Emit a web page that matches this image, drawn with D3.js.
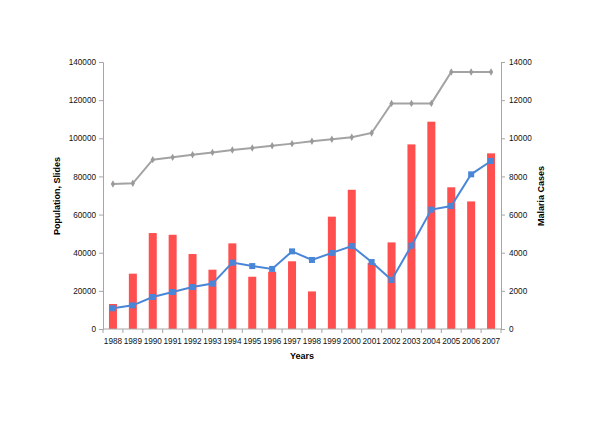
<!DOCTYPE html>
<html>
<head>
<meta charset="utf-8">
<script src="https://cdn.jsdelivr.net/npm/d3@7"></script>
<style>
body{margin:0;background:#fff;}
text{font-family:"Liberation Sans",Arial,sans-serif;}
</style>
</head>
<body>
<svg id="chart" width="600" height="424"></svg>
<script>
const years = ["1988","1989","1990","1991","1992","1993","1994","1995","1996","1997","1998","1999","2000","2001","2002","2003","2004","2005","2006","2007"];
const slides = [13100,29000,50300,49400,39300,31100,44900,27400,30000,35500,19700,58900,73000,34600,45400,96800,108700,74300,66900,92100];
const population = [76000,76400,88800,90000,91400,92600,93900,94900,96100,97200,98400,99500,100500,102800,118300,118300,118300,134800,134800,134800];
const malaria = [1085,1240,1680,1940,2200,2380,3480,3300,3150,4070,3620,3990,4350,3510,2570,4370,6260,6450,8110,8810];
const leftTicks = [0,20000,40000,60000,80000,100000,120000,140000];
const rightTicks = [0,2000,4000,6000,8000,10000,12000,14000];

const svg = d3.select("#chart");
const pLeft = 103, pRight = 501, pTop = 62, pBottom = 329;
const x = d3.scaleBand().domain(years).range([pLeft, pRight]).padding(0);
const yL = d3.scaleLinear().domain([0,140000]).range([pBottom, pTop]);
const yR = d3.scaleLinear().domain([0,14000]).range([pBottom, pTop]);
const axisColor = "#a6a6a6";

// bars
svg.append("g").selectAll("rect").data(years).join("rect")
  .attr("x", (d)=> x(d) + x.bandwidth()/2 - 4)
  .attr("width", 8)
  .attr("y", (d,i)=> yL(slides[i]))
  .attr("height", (d,i)=> pBottom - yL(slides[i]))
  .attr("fill", "#ff4f4f");

// axes
const gL = svg.append("g").attr("transform", `translate(${pLeft},0)`)
  .call(d3.axisLeft(yL).tickValues(leftTicks).tickSize(4).tickPadding(3).tickFormat(d3.format("d")));
const gR = svg.append("g").attr("transform", `translate(${pRight},0)`)
  .call(d3.axisRight(yR).tickValues(rightTicks).tickSize(4).tickPadding(4).tickFormat(d3.format("d")));
const gX = svg.append("g").attr("transform", `translate(0,${pBottom})`)
  .call(d3.axisBottom(x).tickSize(0).tickPadding(9));
// x tick marks between categories
svg.append("g").selectAll("line").data(years.concat(["end"])).join("line")
  .attr("x1", (d,i)=> pLeft + i*x.bandwidth()).attr("x2", (d,i)=> pLeft + i*x.bandwidth())
  .attr("y1", pBottom).attr("y2", pBottom+4)
  .attr("stroke", axisColor);

[gL,gR,gX].forEach(g=>{
  g.selectAll("path.domain").attr("stroke", axisColor);
  g.selectAll(".tick line").attr("stroke", axisColor);
  g.selectAll("text").attr("fill","#111").style("font-size","8.2px").style("font-family","'Liberation Sans',Arial,sans-serif");
});
gX.select("path.domain").attr("d", `M${pLeft},0H${pRight}`);

// gray population line
const lineP = d3.line().x((d,i)=> x(years[i]) + x.bandwidth()/2).y(d=> yL(d));
svg.append("path").datum(population).attr("d", lineP)
  .attr("fill","none").attr("stroke","#a3a3a3").attr("stroke-width",2);
svg.append("g").selectAll("path").data(population).join("path")
  .attr("d", d3.symbol(d3.symbolDiamond, 16))
  .attr("transform", (d,i)=> `translate(${x(years[i]) + x.bandwidth()/2},${yL(d)})`)
  .attr("fill","#9a9a9a");

// blue malaria line
const lineM = d3.line().x((d,i)=> x(years[i]) + x.bandwidth()/2).y(d=> yR(d));
svg.append("path").datum(malaria).attr("d", lineM)
  .attr("fill","none").attr("stroke","#4a86d8").attr("stroke-width",2);
svg.append("g").selectAll("rect").data(malaria).join("rect")
  .attr("x", (d,i)=> x(years[i]) + x.bandwidth()/2 - 3)
  .attr("y", d=> yR(d) - 3)
  .attr("width",6).attr("height",6)
  .attr("fill","#4a86d8");

// axis titles
svg.append("text").attr("transform", "translate(60,196) rotate(-90)")
  .attr("text-anchor","middle").style("font-size","9px").style("font-weight","bold").text("Population, Slides");
svg.append("text").attr("transform", "translate(544,196) rotate(-90)")
  .attr("text-anchor","middle").style("font-size","9px").style("font-weight","bold").text("Malaria Cases");
svg.append("text").attr("x",302).attr("y",359)
  .attr("text-anchor","middle").style("font-size","9px").style("font-weight","bold").text("Years");
</script>
</body>
</html>
